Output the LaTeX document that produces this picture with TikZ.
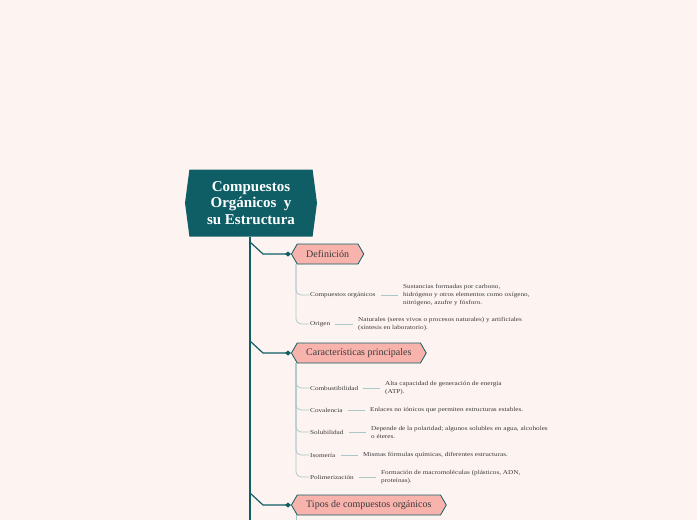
\documentclass[tikz,border=0pt]{standalone}
\usepackage{fontspec}
\setmainfont{Liberation Serif}
\newfontfamily\widserif[FakeStretch=1.2]{Liberation Serif}
\usepackage{xcolor}
\usetikzlibrary{arrows.meta,positioning,shapes.symbols,calc}
\definecolor{paper}{HTML}{FDF3F0}
\definecolor{deepteal}{HTML}{0F5E66}
\definecolor{salmon}{HTML}{F9B3AD}
\definecolor{stemgray}{HTML}{A9C6C9}
\definecolor{ink}{HTML}{3A3A3A}
\tikzset{
  topicbox/.style={
    signal, signal to=west and east, signal pointer angle=165,
    draw=none, fill=deepteal, text=white, align=center,
    font=\bfseries\fontsize{15}{16.5}\selectfont,
    minimum width=132pt, minimum height=67pt, inner sep=2pt
  },
  branchbox/.style={
    signal, signal to=west and east, signal pointer angle=120,
    draw=deepteal, fill=salmon, line width=0.8pt, text=ink,
    font=\fontsize{10}{11}\selectfont,
    minimum height=20pt, inner xsep=9pt, anchor=west
  },
  leafbox/.style={
    text=ink, font=\widserif\fontsize{6}{8}\selectfont, inner sep=1pt, anchor=west
  },
  notebox/.style={
    text=ink, font=\widserif\fontsize{6}{8}\selectfont, inner sep=1pt,
    align=left, anchor=west
  },
  trunk/.style={draw=deepteal, line width=1.6pt},
  twig/.style={draw=deepteal, line width=1.2pt, -{Diamond[length=6pt,width=5pt]}},
  stem/.style={draw=stemgray, line width=0.7pt, rounded corners=5pt},
  leafline/.style={draw=stemgray, line width=0.7pt}
}
\begin{document}
\begin{tikzpicture}[x=1pt,y=-1pt]
  \fill[paper] (0,0) rectangle (697,520);
  \useasboundingbox (0,0) rectangle (697,520);

  % main topic
  \node[topicbox] (main) at (251,203) {Compuestos\\Orgánicos\ \ y\\su Estructura};
  \draw[trunk] (250,237) -- (250,520);

  % first level
  \node[branchbox] (def) at (291,254) {Definición};
  \node[branchbox] (car) at (291,353) {Características principales};
  \node[branchbox] (tip) at (291,505) {Tipos de compuestos orgánicos};

  \coordinate (defroot) at (250,242);
  \coordinate (carroot) at (250,341);
  \coordinate (tiproot) at (250,493);
  \draw[twig] (defroot) -- ++(13,12) -- (def.west);
  \draw[twig] (carroot) -- ++(13,12) -- (car.west);
  \draw[twig] (tiproot) -- ++(13,12) -- (tip.west);

  % Definicion
  \coordinate (defstem) at (296,264);
  \node[leafbox] (comp) at (309,295) {Compuestos orgánicos};
  \node[leafbox] (orig) at (309,324) {Origen};
  \node[notebox] (compnote) at (402,295) {Sustancias formadas por carbono,\\hidrógeno y otros elementos como oxígeno,\\nitrógeno, azufre y fósforo.};
  \node[notebox] (orignote) at (357,324) {Naturales (seres vivos o procesos naturales) y artificiales\\(síntesis en laboratorio).};
  \draw[stem] (defstem) |- (comp.west);
  \draw[stem] (defstem) |- (orig.west);
  \draw[leafline] ([xshift=4pt]comp.east) -- ([xshift=-4pt]compnote.west);
  \draw[leafline] ([xshift=4pt]orig.east) -- ([xshift=-4pt]orignote.west);

  % Caracteristicas
  \coordinate (carstem) at (296,363);
  \node[leafbox] (comb) at (309,388) {Combustibilidad};
  \node[leafbox] (cova) at (309,410) {Covalencia};
  \node[leafbox] (solu) at (309,432) {Solubilidad};
  \node[leafbox] (isom) at (309,455) {Isomería};
  \node[leafbox] (poli) at (309,477) {Polimerización};
  \node[notebox] (combnote) at (384,388) {Alta capacidad de generación de energía\\(ATP).};
  \node[notebox] (covanote) at (369,410) {Enlaces no iónicos que permiten estructuras estables.};
  \node[notebox] (solunote) at (370,432) {Depende de la polaridad; algunos solubles en agua, alcoholes\\o éteres.};
  \node[notebox] (isomnote) at (362,455) {Mismas fórmulas químicas, diferentes estructuras.};
  \node[notebox] (polinote) at (380,477) {Formación de macromoléculas (plásticos, ADN,\\proteínas).};
  \foreach \leaf in {comb,cova,solu,isom,poli}{
    \draw[stem] (carstem) |- (\leaf.west);
    \draw[leafline] ([xshift=4pt]\leaf.east) -- ([xshift=-4pt]\leaf note.west);
  }

  % Tipos
  \coordinate (tipstem) at (296,515);
  \draw[stem] (tipstem) -- (296,520);
\end{tikzpicture}
\end{document}
